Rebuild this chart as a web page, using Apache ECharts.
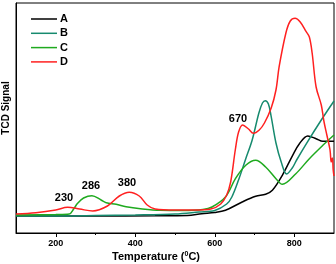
<!DOCTYPE html>
<html><head><meta charset="utf-8">
<script src="https://cdn.jsdelivr.net/npm/echarts@6/dist/echarts.min.js"></script>
<style>html,body{margin:0;padding:0;background:#fff}#c{width:336px;height:264px}</style>
</head><body><div id="c"></div>
<script>
const seriesNames = ['A', 'B', 'C', 'D'];
const xTickLabels = [200, 400, 600, 800];
const xMinorTicks = [300, 500, 700];

const tempA = [100,300,450,531,567,600,627,669,703,728,745,770,796,813,834,855,872,900];
const sigA  = [17,17,17.2,17.5,19.3,20.5,22.7,31,36.7,38.7,42.7,57.7,77.7,89.3,97,94.3,91.7,91.7];

const tempB = [100,200,300,400,500,560,600,630,643,661,678,694,711,720,727,735,742,754,767,781,795,806,831,868,900];
const sigB  = [17,17,17.5,18,19,21,22.5,29,36,54.3,74.3,92.7,120,130,132.3,129,116.3,90,71.3,59,65,73,89.7,113,132];

const tempC = [100,200,234,245,255,270,291,314,327,352,377,413,463,520,570,593,627,652,678,703,728,754,770,804,838,872,900];
const sigC  = [18,18.5,19,24,29.7,35,37.3,33,30.3,28.7,26.3,24.3,22.7,22.5,23.5,26,36,54.3,67.7,72.7,66,54.3,48.7,59.3,74.3,87.7,98];

const tempD = [100,150,200,230,260,293,330,360,385,410,430,450,500,550,590,615,630,640,652,660,670,685,697,712,725,742,754,762,779,790,802,815,830,838,845,855,868,875,882,890,893,896,898,900];
const sigD  = [19,20.3,23,25.7,24,22,27,37,40.7,37,28,24,23,23,24,29,38,51,84,101,108,104,99.7,103,110,125,143,166.3,200,212,214.7,211,201.3,196,180,146,128,111,98,83,71,75,63,57];

const peakLabels = ['230', '286', '380', '670'];

const colors = ['#000000', '#168a6e', '#1faa1f', '#ff2020'];
const temps = [tempA, tempB, tempC, tempD];
const sigs = [sigA, sigB, sigC, sigD];

const chart = echarts.init(document.getElementById('c'), null, {renderer: 'canvas'});
const font = 'Liberation Sans, Arial, sans-serif';
const series = seriesNames.map((n, i) => ({
  name: n,
  type: 'line',
  xAxisIndex: 0,
  symbol: 'none',
  smooth: 0.35,
  data: temps[i].map((t, j) => [t, sigs[i][j]]),
  lineStyle: {color: colors[i], width: 1.5},
  itemStyle: {color: colors[i]},
  z: i === 3 ? 5 : 3
}));

const labelPos = [[64, 198], [91, 186], [127, 183], [238, 119]];

chart.setOption({
  animation: false,
  backgroundColor: '#fff',
  grid: {left: 16, right: 2, top: 3, bottom: 31, show: true, borderColor: '#000', borderWidth: 1},
  legend: {
    data: seriesNames.map((n, i) => ({name: n, icon: 'rect', itemStyle: {color: colors[i]}})),
    orient: 'vertical',
    left: 31, top: 12.5,
    itemWidth: 26, itemHeight: 1.5, itemGap: 1.3,
    padding: 0,
    textStyle: {fontFamily: font, fontWeight: 'bold', fontSize: 11, lineHeight: 13, color: '#000', padding: [0, 0, 0, -2]}
  },
  xAxis: [{
    type: 'value', min: 100, max: 900, interval: 100,
    axisLine: {show: true, onZero: false, lineStyle: {color: '#000', width: 1}},
    axisTick: {show: true, length: 4, customValues: xTickLabels, lineStyle: {color: '#000'}},
    axisLabel: {customValues: xTickLabels, margin: 6, fontFamily: font, fontWeight: 'bold', fontSize: 9, color: '#000'},
    splitLine: {show: false}
  }, {
    type: 'value', min: 100, max: 900, interval: 100, position: 'bottom',
    axisLine: {show: false},
    axisTick: {show: true, length: 2, customValues: xMinorTicks, lineStyle: {color: '#000'}},
    axisLabel: {show: false},
    splitLine: {show: false}
  }],
  yAxis: {
    type: 'value', min: 0, max: 230,
    axisLine: {show: true, lineStyle: {color: '#000', width: 1}},
    axisTick: {show: false}, axisLabel: {show: false}, splitLine: {show: false}
  },
  series: series,
  graphic: [
    ...peakLabels.map((t, i) => ({
      type: 'text', x: labelPos[i][0], y: labelPos[i][1], z: 10,
      style: {text: t, font: 'bold 11px ' + font, fill: '#000', align: 'center', verticalAlign: 'middle'}
    })),
    {
      type: 'text', x: 112, y: 257, z: 10,
      style: {
        text: '{a|Temperature (}{s|0}{a|C)}',
        verticalAlign: 'middle',
        rich: {
          a: {fontFamily: font, fontWeight: 'bold', fontSize: 11, fill: '#000', color: '#000'},
          s: {fontFamily: font, fontWeight: 'bold', fontSize: 7, fill: '#000', color: '#000', verticalAlign: 'top', padding: [0, 0, 6, 0]}
        }
      }
    },
    {
      type: 'text', x: 6.5, y: 108, rotation: Math.PI / 2, z: 10,
      style: {text: 'TCD Signal', font: 'bold 10px ' + font, fill: '#000', align: 'center', verticalAlign: 'middle'}
    }
  ]
});
</script>
</body></html>
